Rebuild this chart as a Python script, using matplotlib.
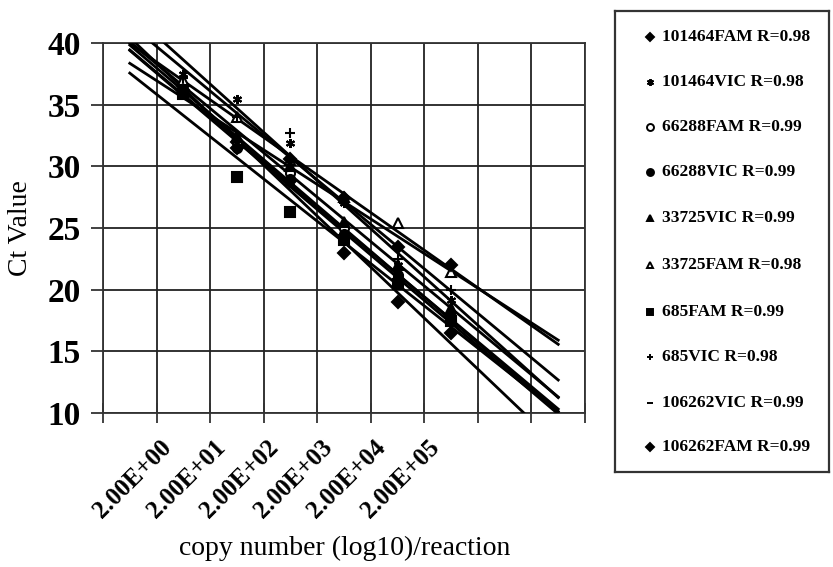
import numpy as np
import matplotlib.pyplot as plt

plt.rcParams['font.family'] = ['Liberation Serif', 'DejaVu Serif']

# 濃度（カテゴリ軸）
cats = ["2.00E+00", "2.00E+01", "2.00E+02", "2.00E+03", "2.00E+04", "2.00E+05"]

names = ["101464FAM R=0.98", "101464VIC R=0.98", "66288FAM R=0.99",
         "66288VIC R=0.99", "33725VIC R=0.99", "33725FAM R=0.98",
         "685FAM R=0.99", "685VIC R=0.98", "106262VIC R=0.99",
         "106262FAM R=0.99"]

# Ct 値
ct_101464fam = [36.5, 32.0, 28.8, 23.0, 19.0, 16.5]
ct_101464vic = [37.5, 35.5, 31.9, 27.0, 22.0, 19.2]
ct_66288fam = [36.0, 32.0, 29.5, 25.0, 21.0, 17.5]
ct_66288vic = [36.2, 31.5, 29.0, 24.5, 21.2, 17.8]
ct_33725vic = [36.5, 32.5, 30.0, 25.5, 22.0, 18.5]
ct_33725fam = [37.0, 34.0, 30.5, 27.5, 25.4, 21.4]
ct_685fam = [35.9, 29.1, 26.3, 24.0, 20.5, 17.5]
ct_685vic = [37.2, 34.0, 32.7, 27.0, 22.5, 20.0]
ct_106262vic = [36.0, 32.0, 28.5, 24.0, 20.5, 18.0]
ct_106262fam = [36.2, 31.5, 30.6, 27.4, 23.5, 22.0]

series = [ct_101464fam, ct_101464vic, ct_66288fam, ct_66288vic, ct_33725vic,
          ct_33725fam, ct_685fam, ct_685vic, ct_106262vic, ct_106262fam]

# マーカー (marker, facecolor)
styles = [("D", "k"), ((6, 2, 0), "k"), ("o", "w"), ("o", "k"), ("^", "k"),
          ("^", "w"), ("s", "k"), ("+", "k"), ("_", "k"), ("D", "k")]

W, H = 833, 567
fig = plt.figure(figsize=(W / 100, H / 100), dpi=100)
ax = fig.add_axes([103 / W, 1 - 413 / H, (585 - 103) / W, (413 - 43) / H])

x = np.arange(1, len(cats) + 1)
xt = np.linspace(0, len(cats) + 2, 50)

for y, (m, fc) in zip(series, styles):
    ax.plot(x, y, ls="none", marker=m, ms=6.5, mfc=fc, mec="k", mew=1.5, zorder=4)
    k, b = np.polyfit(x, y, 1)
    ax.plot(xt, k * xt + b, color="k", lw=2.0, zorder=3)

ax.set_xlim(-0.5, len(cats) + 2.5)
ax.set_ylim(10, 40)

# グリッド（カテゴリの境界）
ax.set_xticks(np.arange(-0.5, len(cats) + 3, 1.0))
ax.set_xticklabels([])
ax.tick_params(axis="x", direction="inout", length=14, width=1.3, color="#333")

# x軸ラベル（斜め）
for xi, lab in zip(x, cats):
    ax.annotate(lab, xy=(xi, 0), xycoords=("data", "axes fraction"),
                xytext=(-11, -22), textcoords="offset points",
                rotation=45, ha="right", va="center", rotation_mode="anchor",
                fontsize=18, fontweight="bold")

ax.set_yticks(np.arange(10, 41, 5))
ax.tick_params(axis="y", direction="out", length=9, width=1.3, color="#333", labelsize=24, pad=7)
for lab in ax.get_yticklabels():
    lab.set_fontweight("bold")

ax.grid(True, color="#222", lw=1.3)
for s in ax.spines.values():
    s.set_color("#333")
    s.set_linewidth(1.3)

fig.text(21 / W, 1 - 228 / H, "Ct Value", rotation=90, ha="center", va="center", fontsize=20)
fig.text(345 / W, 1 - 548 / H, "copy number (log10)/reaction", ha="center", va="center", fontsize=20)

# 凡例（手描き）
lx0, lx1, ly0, ly1 = 615, 829, 11, 472
lax = fig.add_axes([lx0 / W, 1 - ly1 / H, (lx1 - lx0) / W, (ly1 - ly0) / H])
lax.set_xlim(lx0, lx1)
lax.set_ylim(ly1, ly0)
lax.set_xticks([])
lax.set_yticks([])
for s in lax.spines.values():
    s.set_color("#333")
    s.set_linewidth(1.6)
rows = [37, 82, 127, 172, 218, 265, 312, 357, 403, 447]
for yy, name, (m, fc) in zip(rows, names, styles):
    ms = 4 if m == "D" else 5
    lax.plot([650], [yy], marker=m, ms=ms, mfc=fc, mec="k", mew=1.4, ls="none")
    lax.text(662, yy, name, ha="left", va="center", fontsize=12.5, fontweight="bold")

fig.savefig("out.png", dpi=100)
